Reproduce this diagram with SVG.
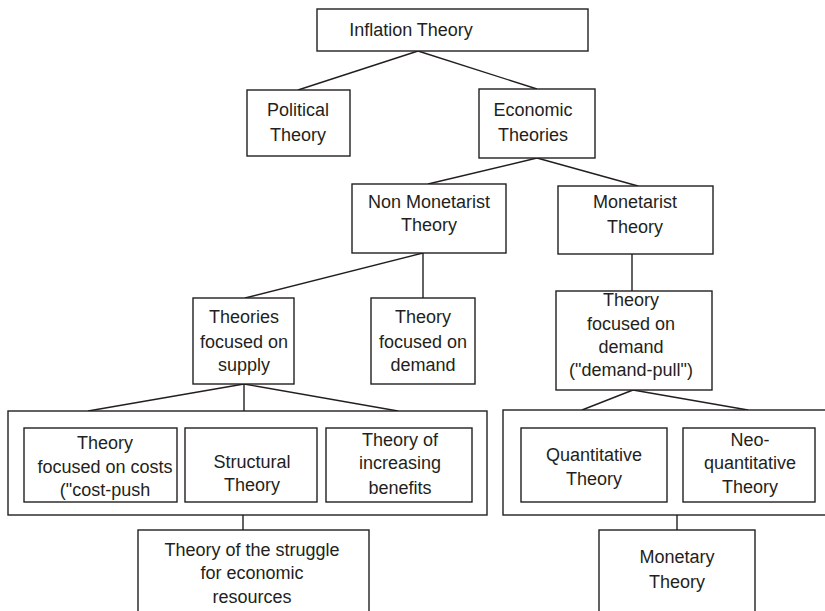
<svg xmlns="http://www.w3.org/2000/svg" width="825" height="611" viewBox="0 0 825 611">
<style>
rect{fill:#fff;stroke:#231f20;stroke-width:1.4}
.c line{stroke:#231f20;stroke-width:1.4}
text{font-family:"Liberation Sans",Arial,sans-serif;font-size:18px;fill:#231f20;text-anchor:middle}
</style>
<rect x="0" y="0" width="825" height="611" style="stroke:none"/>
<g class="c" id="connectors">
<line x1="418" y1="51" x2="298" y2="90"/>
<line x1="418" y1="51" x2="537" y2="89"/>
<line x1="537" y1="158" x2="428" y2="184"/>
<line x1="537" y1="158" x2="638" y2="186"/>
<line x1="423" y1="253" x2="245" y2="298"/>
<line x1="423" y1="253" x2="423" y2="298"/>
<line x1="632" y1="254" x2="632" y2="291"/>
<line x1="244" y1="384" x2="88" y2="411"/>
<line x1="244" y1="384" x2="244" y2="411"/>
<line x1="244" y1="384" x2="398" y2="411"/>
<line x1="633" y1="390" x2="582" y2="410"/>
<line x1="633" y1="390" x2="748" y2="410"/>
<line x1="243" y1="515" x2="243" y2="530"/>
<line x1="677" y1="515" x2="677" y2="530"/>
</g>
<g id="inflation"><rect x="317" y="9" width="271" height="42"/><text x="411" y="36">Inflation Theory</text></g>
<g id="political"><rect x="247" y="90" width="103" height="66"/><text x="298" y="116">Political</text><text x="298" y="141">Theory</text></g>
<g id="economic"><rect x="479" y="89" width="116" height="69"/><text x="533" y="116">Economic</text><text x="533" y="141">Theories</text></g>
<g id="nonmonetarist"><rect x="352" y="184" width="154" height="69"/><text x="429" y="208">Non Monetarist</text><text x="429" y="231">Theory</text></g>
<g id="monetarist"><rect x="558" y="186" width="155" height="68"/><text x="635" y="208">Monetarist</text><text x="635" y="233">Theory</text></g>
<g id="supply"><rect x="193" y="298" width="101" height="86"/><text x="244" y="323">Theories</text><text x="244" y="348">focused on</text><text x="244" y="371">supply</text></g>
<g id="demand"><rect x="371" y="298" width="104" height="86"/><text x="423" y="323">Theory</text><text x="423" y="348">focused on</text><text x="423" y="371">demand</text></g>
<g id="demandpull"><rect x="556" y="291" width="156" height="99"/><text x="631" y="306">Theory</text><text x="631" y="330">focused on</text><text x="631" y="353">demand</text><text x="631" y="376">("demand-pull")</text></g>
<g id="supplygroup"><rect x="8" y="411" width="479" height="104"/>
<g id="costpush"><rect x="24" y="428" width="153" height="74"/><text x="105" y="449">Theory</text><text x="105" y="473">focused on costs</text><text x="105" y="496">("cost-push</text></g>
<g id="structural"><rect x="185" y="428" width="132" height="74"/><text x="252" y="468">Structural</text><text x="252" y="491">Theory</text></g>
<g id="benefits"><rect x="326" y="428" width="146" height="74"/><text x="400" y="446">Theory of</text><text x="400" y="469">increasing</text><text x="400" y="494">benefits</text></g>
</g>
<g id="demandgroup"><rect x="503" y="410" width="330" height="105"/>
<g id="quantitative"><rect x="521" y="428" width="146" height="74"/><text x="594" y="461">Quantitative</text><text x="594" y="485">Theory</text></g>
<g id="neoquant"><rect x="683" y="428" width="132" height="74"/><text x="750" y="446">Neo-</text><text x="750" y="469">quantitative</text><text x="750" y="493">Theory</text></g>
</g>
<g id="struggle"><rect x="138" y="530" width="231" height="95"/><text x="252" y="556">Theory of the struggle</text><text x="252" y="579">for economic</text><text x="252" y="603">resources</text></g>
<g id="monetary"><rect x="599" y="530" width="156" height="95"/><text x="677" y="563">Monetary</text><text x="677" y="588">Theory</text></g>
</svg>
